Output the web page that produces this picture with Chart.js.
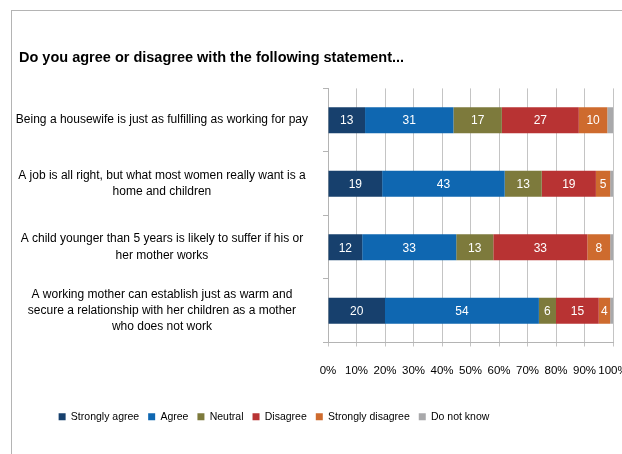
<!DOCTYPE html>
<html lang="en">
<head>
    <meta charset="UTF-8">
    <title>Do you agree or disagree with the following statement...</title>
    <style>
        body {
            margin: 0;
            overflow: hidden;
            background: #fff;
        }
        .frame {
            position: absolute;
            left: 11px;
            top: 10px;
            width: 700px;
            height: 500px;
            border-left: 1px solid #b4b4b4;
            border-top: 1px solid #b4b4b4;
        }
        #surveyChart {
            position: absolute;
            left: 0;
            top: 0;
        }
    </style>
</head>
<body>
<div class="frame"></div>
<canvas id="surveyChart" width="622" height="454"></canvas>

<script src="https://cdn.jsdelivr.net/npm/chart.js"></script>
<script>
    const FONT = "'Liberation Sans', Arial, sans-serif";

    // statements (multi-line labels as shown on the chart)
    const statements = [
        ['Being a housewife is just as fulfilling as working for pay'],
        ['A job is all right, but what most women really want is a', 'home and children'],
        ['A child younger than 5 years is likely to suffer if his or', 'her mother works'],
        ['A working mother can establish just as warm and', 'secure a relationship with her children as a mother', 'who does not work']
    ];

    // answers, percent of respondents
    const stronglyAgree    = [13, 19, 12, 20];
    const agree            = [31, 43, 33, 54];
    const neutral          = [17, 13, 13, 6];
    const disagree         = [27, 19, 33, 15];
    const stronglyDisagree = [10, 5, 8, 4];
    const doNotKnow        = [2, 1, 1, 1];

    const xTicks = [0, 10, 20, 30, 40, 50, 60, 70, 80, 90, 100];

    // white numbers in the middle of each segment
    const segmentLabels = {
        id: 'segmentLabels',
        afterDatasetsDraw(chart) {
            const ctx = chart.ctx;
            ctx.save();
            ctx.font = '12px ' + FONT;
            ctx.fillStyle = '#ffffff';
            ctx.textAlign = 'center';
            ctx.textBaseline = 'middle';
            chart.data.datasets.forEach((ds, i) => {
                if (ds.label === 'Do not know') return;
                chart.getDatasetMeta(i).data.forEach((bar, j) => {
                    const p = bar.getProps(['x', 'y', 'base'], true);
                    ctx.fillText(ds.data[j], (p.x + p.base) / 2, p.y + 1);
                });
            });
            ctx.restore();
        }
    };

    // legend sits a bit left of the canvas centre in the original;
    // the long statement labels also need a little room left of the title
    const adjustBoxes = {
        id: 'adjustBoxes',
        afterLayout(chart) {
            chart.legend.left -= 42;
            chart.legend.right -= 42;
            chart.scales.y.left = 12;
        }
    };

    new Chart(document.getElementById('surveyChart'), {
        type: 'bar',
        data: {
            labels: statements,
            datasets: [
                { label: 'Strongly agree', data: stronglyAgree, backgroundColor: '#17406d' },
                { label: 'Agree', data: agree, backgroundColor: '#0f67b1' },
                { label: 'Neutral', data: neutral, backgroundColor: '#7d7a3c' },
                { label: 'Disagree', data: disagree, backgroundColor: '#b83333' },
                { label: 'Strongly disagree', data: stronglyDisagree, backgroundColor: '#ce6b2e' },
                { label: 'Do not know', data: doNotKnow, backgroundColor: '#a9a9ab' }
            ]
        },
        options: {
            indexAxis: 'y',
            responsive: false,
            animation: false,
            datasets: {
                bar: {
                    categoryPercentage: 1,
                    barPercentage: 0.41,
                    borderWidth: 0
                }
            },
            layout: {
                padding: { left: 19, right: 9, top: 49, bottom: 22 }
            },
            scales: {
                x: {
                    stacked: true,
                    min: 0,
                    max: 100,
                    afterBuildTicks(scale) {
                        scale.ticks = xTicks.map(v => ({ value: v }));
                    },
                    afterFit(scale) {
                        scale.paddingRight = 0;
                        scale.height = 60;
                    },
                    grid: {
                        color: '#c4c4c4',
                        tickLength: 4
                    },
                    border: { color: '#b4b4b4' },
                    ticks: {
                        autoSkip: false,
                        padding: 17,
                        maxRotation: 0,
                        color: '#000',
                        font: { family: FONT, size: 11.5 },
                        callback: v => v + '%'
                    }
                },
                y: {
                    stacked: true,
                    afterFit(scale) {
                        scale.width = 309;
                    },
                    grid: {
                        drawOnChartArea: false,
                        color: '#b4b4b4',
                        tickLength: 5
                    },
                    border: { color: '#b4b4b4' },
                    ticks: {
                        crossAlign: 'center',
                        padding: 15,
                        color: '#000',
                        font: { family: FONT, size: 12, lineHeight: 1.35 }
                    }
                }
            },
            plugins: {
                title: {
                    display: true,
                    text: 'Do you agree or disagree with the following statement...',
                    align: 'start',
                    color: '#000',
                    font: { family: FONT, size: 14.5, weight: 'bold', lineHeight: 1.2 },
                    padding: { top: 0, bottom: 22 }
                },
                legend: {
                    position: 'bottom',
                    labels: {
                        boxWidth: 7,
                        boxHeight: 7,
                        padding: 9,
                        color: '#000',
                        font: { family: FONT, size: 10.5 }
                    }
                },
                tooltip: { enabled: false }
            }
        },
        plugins: [segmentLabels, adjustBoxes]
    });
</script>
</body>
</html>
